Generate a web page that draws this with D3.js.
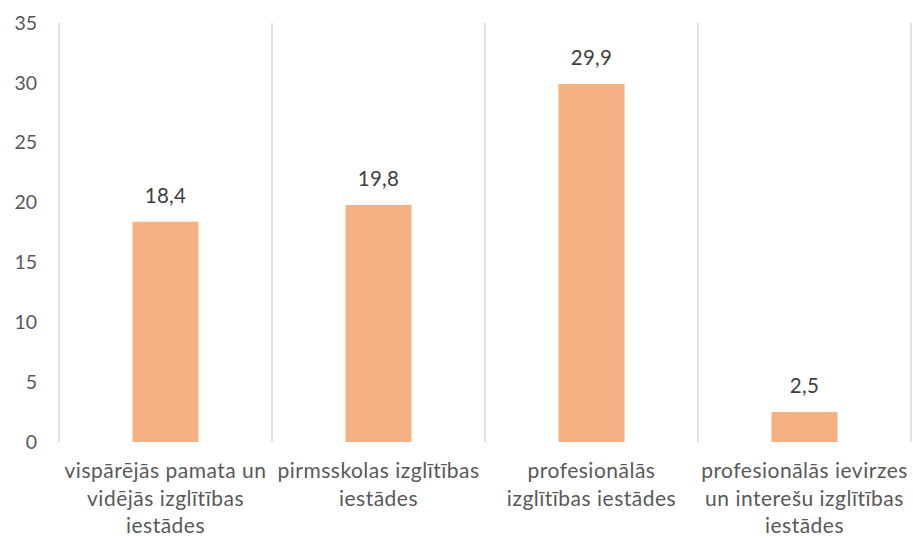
<!DOCTYPE html>
<html>
<head>
<meta charset="utf-8">
<script src="https://cdn.jsdelivr.net/npm/d3@7"></script>
<style>
  html, body { margin: 0; padding: 0; background: #fff; }
  svg { display: block; font-family: Lato, "Open Sans", sans-serif; }
</style>
</head>
<body>
<svg id="chart" width="913" height="539"></svg>
<script>
// Chart data
const categories = [
  ["vispārējās pamata un", "vidējās izglītības", "iestādes"],
  ["pirmsskolas izglītības", "iestādes"],
  ["profesionālās", "izglītības iestādes"],
  ["profesionālās ievirzes", "un interešu izglītības", "iestādes"]
];
const values = [18.4, 19.8, 29.9, 2.5];
const yTicks = [0, 5, 10, 15, 20, 25, 30, 35];

const svg = d3.select("#chart");
const plotLeft = 59, plotRight = 911, plotTop = 23, plotBottom = 442;
const textColor = "#595959";

const x = d3.scaleBand()
  .domain(d3.range(values.length))
  .range([plotLeft, plotRight])
  .paddingInner(0.69)
  .paddingOuter(0.345);

const y = d3.scaleLinear().domain([0, 35]).range([plotBottom, plotTop]);

// vertical separators between categories
const step = x.step();
svg.append("g")
  .selectAll("line")
  .data(d3.range(values.length + 1))
  .join("line")
  .attr("x1", i => plotLeft + i * step)
  .attr("x2", i => plotLeft + i * step)
  .attr("y1", y(35))
  .attr("y2", y(0))
  .attr("stroke", "#d9d9d9")
  .attr("stroke-width", 1.5);

// y axis labels
const yAxis = d3.axisLeft(y).tickValues(yTicks).tickSize(0).tickPadding(0);
const yg = svg.append("g").attr("transform", "translate(37,0)").call(yAxis);
yg.select(".domain").remove();
yg.selectAll("text")
  .attr("fill", textColor)
  .style("font-size", "19.5px")
  .style("font-family", "Lato, 'Open Sans', sans-serif");

// bars
svg.append("g")
  .selectAll("rect")
  .data(values)
  .join("rect")
  .attr("x", (d, i) => x(i))
  .attr("width", x.bandwidth())
  .attr("y", d => y(d))
  .attr("height", d => y(0) - y(d))
  .attr("fill", "#f4b183");

// value labels
const fmt = d => d3.format(".1f")(d).replace(".", ",");
svg.append("g")
  .selectAll("text")
  .data(values)
  .join("text")
  .attr("x", (d, i) => x(i) + x.bandwidth() / 2)
  .attr("y", d => y(d) - 19)
  .attr("text-anchor", "middle")
  .attr("fill", "#404040")
  .style("font-size", "20.5px")
  .style("letter-spacing", "0.3px")
  .text(d => fmt(d));

// category labels
const cg = svg.append("g")
  .selectAll("text")
  .data(categories)
  .join("text")
  .attr("text-anchor", "middle")
  .attr("fill", textColor)
  .style("font-size", "21px")
  .style("letter-spacing", "0.5px");
cg.each(function(lines, i) {
  const t = d3.select(this);
  lines.forEach((ln, j) => {
    t.append("tspan")
      .attr("x", x(i) + x.bandwidth() / 2)
      .attr("y", 478 + j * 27.5)
      .text(ln);
  });
});
</script>
</body>
</html>
